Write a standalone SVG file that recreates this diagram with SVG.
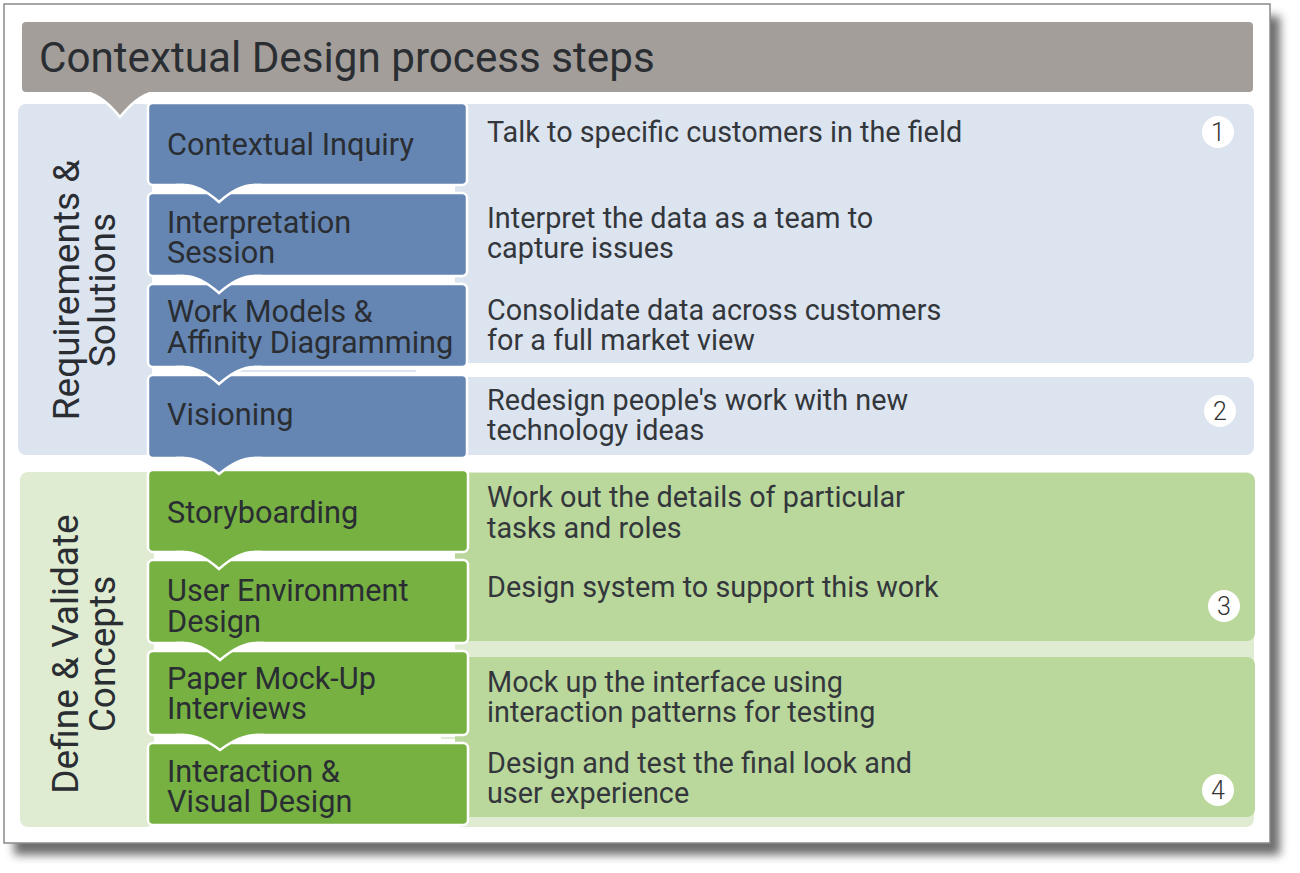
<svg xmlns="http://www.w3.org/2000/svg" width="1300" height="873" viewBox="0 0 1300 873">
  <defs>
    <filter id="shadow" x="-5%" y="-5%" width="115%" height="115%">
      <feGaussianBlur stdDeviation="5"/>
    </filter>
    <style>
      text { font-family: Roboto, "Liberation Sans", Arial, sans-serif; font-weight: 400; fill: #2a2e33; }
      .title { font-size: 42.2px; }
      .step { font-size: 30.7px; }
      .desc { font-size: 28.8px; fill: #33373c; }
      .side { font-size: 37px; }
      .num { font-size: 25px; text-anchor: middle; fill: #333; font-weight: 300; }
      .bbox { fill: #6586b3; stroke: #ffffff; stroke-width: 2.5; }
      .gbox { fill: #76b142; stroke: #ffffff; stroke-width: 2.5; }
      .lblue { fill: #dce4ef; }
      .lgreen { fill: #dfecd1; }
      .mgreen { fill: #bbd89c; }
      .pline { fill: none; stroke: #ffffff; stroke-width: 2.5; }
      .circ { fill: #ffffff; }
    </style>
  </defs>

  <!-- card -->
  <rect x="14" y="16" width="1266" height="839" fill="#555" opacity="0.85" filter="url(#shadow)"/>
  <rect x="4" y="4" width="1266" height="839" fill="#ffffff" stroke="#8a8a8a" stroke-width="1.5"/>

  <!-- section backgrounds -->
  <g id="section-requirements">
    <rect class="lblue" x="18" y="104" width="134" height="351" rx="8"/>
    <rect class="lblue" x="455" y="104" width="799" height="259" rx="8"/>
    <rect class="lblue" x="455" y="377" width="799" height="78" rx="8"/>
    <rect class="lblue" x="240" y="370" width="176" height="2"/>
    <text class="side" transform="translate(79,290) rotate(-90)" text-anchor="middle">Requirements &amp;</text>
    <text class="side" transform="translate(115,290) rotate(-90)" text-anchor="middle">Solutions</text>
  </g>
  <g id="section-define">
    <rect class="lgreen" x="20" y="472" width="134" height="355" rx="8"/>
    <rect class="lgreen" x="455" y="472" width="799" height="355" rx="8"/>
    <rect class="lgreen" x="441" y="737" width="26" height="2"/>
    <rect class="mgreen" x="455" y="473" width="800" height="168" rx="8"/>
    <rect class="mgreen" x="455" y="657" width="800" height="160" rx="8"/>
    <text class="side" transform="translate(78,654) rotate(-90)" text-anchor="middle">Define &amp; Validate</text>
    <text class="side" transform="translate(115,654) rotate(-90)" text-anchor="middle">Concepts</text>
  </g>

  <!-- header -->
  <g id="header">
    <path d="M80,88 L82,92 Q100,92 120,117 Q140,92 158,92 L160,88 Z" fill="#a39e99"/>
    <path class="pline" d="M76,92 L82,92 Q100,92 120,117 Q140,92 158,92 L164,92"/>
    <rect x="22" y="22" width="1231" height="70" rx="4" fill="#a39e99"/>
    <text class="title" x="39" y="72">Contextual Design process steps</text>
  </g>

  <!-- step nodes -->
  <g id="step-contextual-inquiry">
    <rect class="bbox" x="148" y="103" width="319" height="82" rx="5"/>
    <text class="step" x="167" y="155">Contextual Inquiry</text>
    <text class="desc" x="487" y="142">Talk to specific customers in the field</text>
  </g>
  <g id="step-interpretation-session">
    <rect class="bbox" x="148" y="193" width="319" height="83" rx="5"/>
    <text class="step" x="167" y="233">Interpretation</text>
    <text class="step" x="167" y="263">Session</text>
    <text class="desc" x="487" y="228">Interpret the data as a team to</text>
    <text class="desc" x="487" y="258">capture issues</text>
  </g>
  <g id="step-work-models">
    <rect class="bbox" x="148" y="284" width="319" height="83" rx="5"/>
    <text class="step" x="167" y="322">Work Models &amp;</text>
    <text class="step" x="167" y="353">Affinity Diagramming</text>
    <text class="desc" x="487" y="320">Consolidate data across customers</text>
    <text class="desc" x="487" y="350">for a full market view</text>
  </g>
  <g id="step-visioning">
    <rect class="bbox" x="148" y="375" width="319" height="83" rx="5"/>
    <text class="step" x="167" y="425">Visioning</text>
    <text class="desc" x="487" y="410">Redesign people's work with new</text>
    <text class="desc" x="487" y="440">technology ideas</text>
  </g>
  <g id="step-storyboarding">
    <rect class="gbox" x="148" y="470" width="320" height="82" rx="5"/>
    <text class="step" x="167" y="523">Storyboarding</text>
    <text class="desc" x="487" y="507">Work out the details of particular</text>
    <text class="desc" x="487" y="538">tasks and roles</text>
  </g>
  <g id="step-user-environment-design">
    <rect class="gbox" x="148" y="560" width="320" height="83" rx="5"/>
    <text class="step" x="167" y="601">User Environment</text>
    <text class="step" x="167" y="632">Design</text>
    <text class="desc" x="487" y="597">Design system to support this work</text>
  </g>
  <g id="step-paper-mockup">
    <rect class="gbox" x="148" y="651" width="320" height="84" rx="5"/>
    <text class="step" x="167" y="689">Paper Mock-Up</text>
    <text class="step" x="167" y="719">Interviews</text>
    <text class="desc" x="487" y="692">Mock up the interface using</text>
    <text class="desc" x="487" y="722">interaction patterns for testing</text>
  </g>
  <g id="step-interaction-visual-design">
    <rect class="gbox" x="148" y="743" width="320" height="82" rx="5"/>
    <text class="step" x="167" y="782">Interaction &amp;</text>
    <text class="step" x="167" y="812">Visual Design</text>
    <text class="desc" x="487" y="773">Design and test the final look and</text>
    <text class="desc" x="487" y="803">user experience</text>
  </g>

  <!-- phase numbers -->
  <g id="num-1"><circle class="circ" cx="1218" cy="132" r="16"/><text class="num" x="1218" y="141">1</text></g>
  <g id="num-2"><circle class="circ" cx="1220" cy="411" r="16"/><text class="num" x="1220" y="420">2</text></g>
  <g id="num-3"><circle class="circ" cx="1224" cy="606" r="16"/><text class="num" x="1224" y="615">3</text></g>
  <g id="num-4"><circle class="circ" cx="1218" cy="790" r="16"/><text class="num" x="1218" y="799">4</text></g>

  <!-- connectors: downward pointers between steps -->
  <g id="connectors">
    <path d="M184,183 L184,185 Q200,185 219,202 Q238,185 254,185 L254,183 Z" fill="#6586b3"/>
    <path class="pline" d="M176,185 L184,185 Q200,185 219,202 Q238,185 254,185 L262,185"/>
    <path d="M184,274 L184,276 Q200,276 219,293 Q238,276 254,276 L254,274 Z" fill="#6586b3"/>
    <path class="pline" d="M176,276 L184,276 Q200,276 219,293 Q238,276 254,276 L262,276"/>
    <path d="M184,365 L184,367 Q200,367 219,384 Q238,367 254,367 L254,365 Z" fill="#6586b3"/>
    <path class="pline" d="M176,367 L184,367 Q200,367 219,384 Q238,367 254,367 L262,367"/>
    <path d="M184,456 L184,458 Q200,458 219,474 Q238,458 254,458 L254,456 Z" fill="#6586b3"/>
    <path class="pline" d="M176,458 L184,458 Q200,458 219,474 Q238,458 254,458 L262,458"/>
    <path d="M184,550 L184,552 Q200,552 219,569 Q238,552 254,552 L254,550 Z" fill="#76b142"/>
    <path class="pline" d="M176,552 L184,552 Q200,552 219,569 Q238,552 254,552 L262,552"/>
    <path d="M184,641 L184,643 Q200,643 220,660 Q240,643 256,643 L256,641 Z" fill="#76b142"/>
    <path class="pline" d="M176,643 L184,643 Q200,643 220,660 Q240,643 256,643 L264,643"/>
    <path d="M184,733 L184,735 Q200,735 220,750 Q240,735 256,735 L256,733 Z" fill="#76b142"/>
    <path class="pline" d="M176,735 L184,735 Q200,735 220,750 Q240,735 256,735 L264,735"/>
  </g>
</svg>
